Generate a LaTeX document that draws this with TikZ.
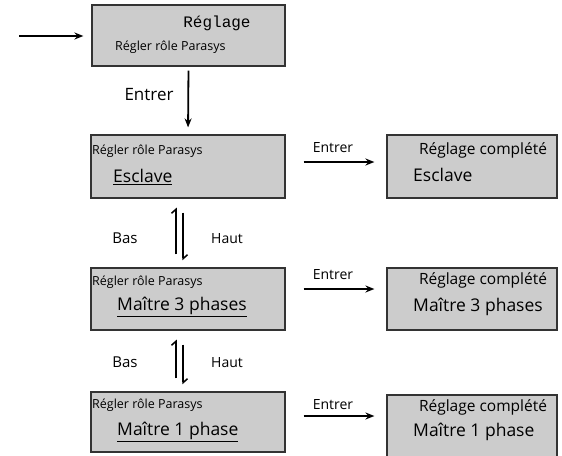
\documentclass[tikz,border=0pt]{standalone}
\usepackage{fontspec}
\setmainfont{Open Sans}
\newfontfamily\titlefont{Liberation Mono}
\usetikzlibrary{arrows.meta, positioning}
\tikzset{
	panel/.style={draw=black!80, line width=1.2pt, fill=gray!40, minimum width=194pt, minimum height=63pt, inner sep=0pt},
	donepanel/.style={panel, minimum width=170pt},
	flow/.style={-{Stealth[length=9pt,width=7pt]}, line width=1.8pt},
	harp/.style={-{Straight Barb[left,length=4pt,width=9pt]}, line width=1.5pt},
	small/.style={font=\fontsize{12.5}{14}\selectfont, inner sep=0pt},
	mid/.style={font=\fontsize{14}{16}\selectfont, inner sep=0pt},
	headline/.style={font=\fontsize{15.5}{17}\selectfont, inner sep=0pt},
	big/.style={font=\fontsize{17.5}{20}\selectfont, inner sep=0pt}
}

\begin{document}
\begin{tikzpicture}[x=1pt, y=-1pt]
	\useasboundingbox (0,0) rectangle (562,455);
	
	% --- Top box ---
	\node[panel, minimum height=61pt, minimum width=193pt] (top) at (188.5, 35.5) {};
	\node[font=\titlefont\fontsize{16}{18}\selectfont, inner sep=0pt] (toptitle) at (217, 23) {Réglage};
	\node[small, anchor=west] (toprole) at (115, 47) {Régler rôle Parasys};
	\coordinate (in) at (19, 36);
	\draw[flow, shorten >=8pt] (in) -- (top.west |- in);
	
	% --- Left column ---
	\node[panel] (l1) at (188, 166.5) {};
	\node[panel, minimum height=62pt] (l2) at (188, 299) {};
	\node[panel, minimum height=60pt] (l3) at (188, 422) {};
	
	\node[small, anchor=west] (r1) at (92, 151) {Régler rôle Parasys};
	\node[small, anchor=west] (r2) at (92, 282) {Régler rôle Parasys};
	\node[small, anchor=west] (r3) at (92, 405) {Régler rôle Parasys};
	\node[big, anchor=west] (o1) at (113, 177) {\underline{Esclave}};
	\node[big, anchor=west] (o2) at (117, 307) {\underline{Maître 3 phases}};
	\node[big, anchor=west] (o3) at (117, 432) {\underline{Maître 1 phase}};
	
	\draw[flow, shorten <=4pt, shorten >=7pt] (top.south) -- (l1.north);
	\node[font=\fontsize{17}{19}\selectfont, inner sep=0pt] (enter) at (149, 95) {Entrer};
	
	% --- Right column ---
	\node[donepanel] (d1) at (472, 166.5) {};
	\node[donepanel, minimum height=62pt] (d2) at (472, 299) {};
	\node[donepanel, minimum height=66pt] (d3) at (472, 428) {};
	
	\node[headline] (c1) at (483, 150) {Réglage complété};
	\node[headline] (c2) at (483, 280) {Réglage complété};
	\node[headline] (c3) at (483, 407) {Réglage complété};
	\node[big, anchor=west] (s1) at (413, 175) {Esclave};
	\node[big, anchor=west] (s2) at (413, 307) {Maître 3 phases};
	\node[big, anchor=west] (s3) at (413, 432) {Maître 1 phase};
	
	% --- Entrer arrows ---
	\draw[flow, shorten <=18pt, shorten >=12pt] ([yshift=4.5pt]l1.east) -- ([yshift=4.5pt]d1.west);
	\draw[flow, shorten <=18pt, shorten >=12pt] ([yshift=10pt]l2.east) -- ([yshift=10pt]d2.west);
	\draw[flow, shorten <=18pt, shorten >=12pt] ([yshift=6pt]l3.east) -- ([yshift=6pt]d3.west |- l3.east);
	\node[mid] (e1) at (333, 148) {Entrer};
	\node[mid] (e2) at (333, 275) {Entrer};
	\node[mid] (e3) at (333, 405) {Entrer};
	
	% --- Bas / Haut ---
	\draw[harp, shorten <=13pt, shorten >=9pt] ([xshift=-12pt]l2.north) -- ([xshift=-12pt]l1.south);
	\draw[harp, shorten <=14pt, shorten >=7pt] ([xshift=-5pt]l1.south) -- ([xshift=-5pt]l2.north);
	\draw[harp, shorten <=13pt, shorten >=9pt] ([xshift=-12pt]l3.north) -- ([xshift=-12pt]l2.south);
	\draw[harp, shorten <=14pt, shorten >=7pt] ([xshift=-5pt]l2.south) -- ([xshift=-5pt]l3.north);
	\node[font=\fontsize{15}{17}\selectfont, inner sep=0pt] (b1) at (125, 238) {Bas};
	\node[mid] (h1) at (227, 239) {Haut};
	\node[font=\fontsize{15}{17}\selectfont, inner sep=0pt] (b2) at (125, 362) {Bas};
	\node[mid] (h2) at (227, 363) {Haut};
\end{tikzpicture}
\end{document}
